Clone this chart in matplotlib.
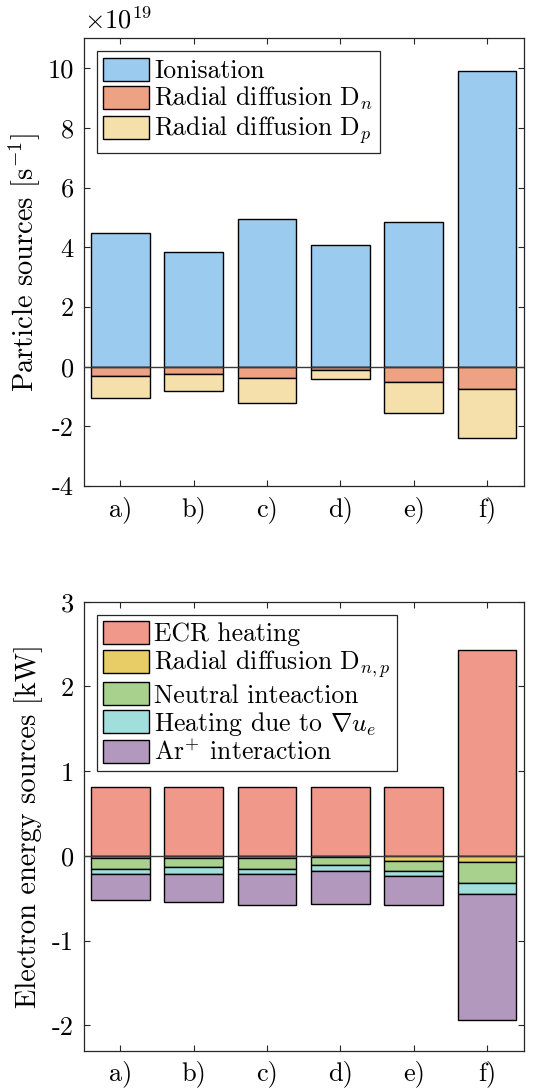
import numpy as np
import matplotlib
matplotlib.use("Agg")
import matplotlib.pyplot as plt

plt.rcParams['font.family'] = 'serif'
plt.rcParams['font.serif'] = ['cmr10', 'DejaVu Serif']
plt.rcParams['mathtext.fontset'] = 'cm'
plt.rcParams['axes.unicode_minus'] = False

cases = ['a)', 'b)', 'c)', 'd)', 'e)', 'f)']

# particle sources, units of 1e19 s^-1
ionisation = [4.47, 3.84, 4.94, 4.07, 4.84, 9.90]
diff_n = [-0.32, -0.25, -0.39, -0.12, -0.50, -0.74]
diff_p = [-0.74, -0.56, -0.83, -0.31, -1.04, -1.64]

# electron energy sources, kW
ecr = [0.81, 0.81, 0.81, 0.81, 0.81, 2.43]
diff_np = [-0.03, -0.03, -0.025, -0.01, -0.055, -0.075]
neutral = [-0.12, -0.10, -0.13, -0.10, -0.12, -0.25]
grad_ue = [-0.06, -0.08, -0.06, -0.065, -0.06, -0.125]
ar_ion = [-0.31, -0.335, -0.37, -0.39, -0.345, -1.49]

x = np.arange(1, len(cases) + 1)
w = 0.8
edge = dict(edgecolor='black', linewidth=1.0)
axc = '#262626'

fig = plt.figure(figsize=(5.33, 10.91), dpi=100)
ax1 = fig.add_axes([0.157, 0.5545, 0.8257, 0.4104])
ax2 = fig.add_axes([0.157, 0.0369, 0.8257, 0.4116])


def style(ax):
    ax.set_xlim(0.5, 6.5)
    ax.set_xticks(x)
    ax.set_xticklabels(cases)
    ax.tick_params(direction='in', top=True, right=True, labelsize=19,
                   length=4, color=axc, width=0.8, pad=7)
    for s in ax.spines.values():
        s.set_color(axc)
        s.set_linewidth(0.9)
    ax.axhline(0, color='#3a3a3a', lw=1.0, zorder=5)
    ax.yaxis.set_label_coords(-0.093, 0.5)


def add_legend(ax):
    leg = ax.legend(loc='upper left', fontsize=18.5, frameon=True,
                    fancybox=False, edgecolor=axc, framealpha=1,
                    handlelength=1.8, handleheight=1.0, handletextpad=0.2,
                    labelspacing=0.08, borderpad=0.25, borderaxespad=0.5)
    leg.get_frame().set_linewidth(0.9)


# top: particle sources
ax1.bar(x, ionisation, w, color='#9bcbee', label='Ionisation', **edge)
ax1.bar(x, diff_n, w, color='#eda283', label='Radial diffusion D$_n$', **edge)
ax1.bar(x, diff_p, w, bottom=diff_n, color='#f5dfaa',
        label='Radial diffusion D$_p$', **edge)
ax1.set_ylim(-4, 11)
ax1.set_yticks([-4, -2, 0, 2, 4, 6, 8, 10])
style(ax1)
ax1.set_ylabel('Particle sources [s$^{-1}$]', fontsize=20.5)
ax1.text(0.0, 1.01, r'$\times10^{19}$', transform=ax1.transAxes,
         fontsize=19, ha='left', va='bottom')
add_legend(ax1)

# bottom: electron energy sources
b1 = np.array(diff_np)
b2 = b1 + np.array(neutral)
b3 = b2 + np.array(grad_ue)
ax2.bar(x, ecr, w, color='#f0998a', label='ECR heating', **edge)
ax2.bar(x, diff_np, w, color='#e8cd66', label='Radial diffusion D$_{n,p}$', **edge)
ax2.bar(x, neutral, w, bottom=b1, color='#a9d18e',
        label='Neutral inteaction', **edge)
ax2.bar(x, grad_ue, w, bottom=b2, color='#a2dfdc',
        label=r'Heating due to $\nabla u_e$', **edge)
ax2.bar(x, ar_ion, w, bottom=b3, color='#b398be',
        label=r'Ar$^{\!+\!}$ interaction', **edge)
ax2.set_ylim(-2.3, 3)
ax2.set_yticks([-2, -1, 0, 1, 2, 3])
style(ax2)
ax2.set_ylabel('Electron energy sources [kW]', fontsize=20.5)
add_legend(ax2)

fig.savefig('out.png', dpi=100)
